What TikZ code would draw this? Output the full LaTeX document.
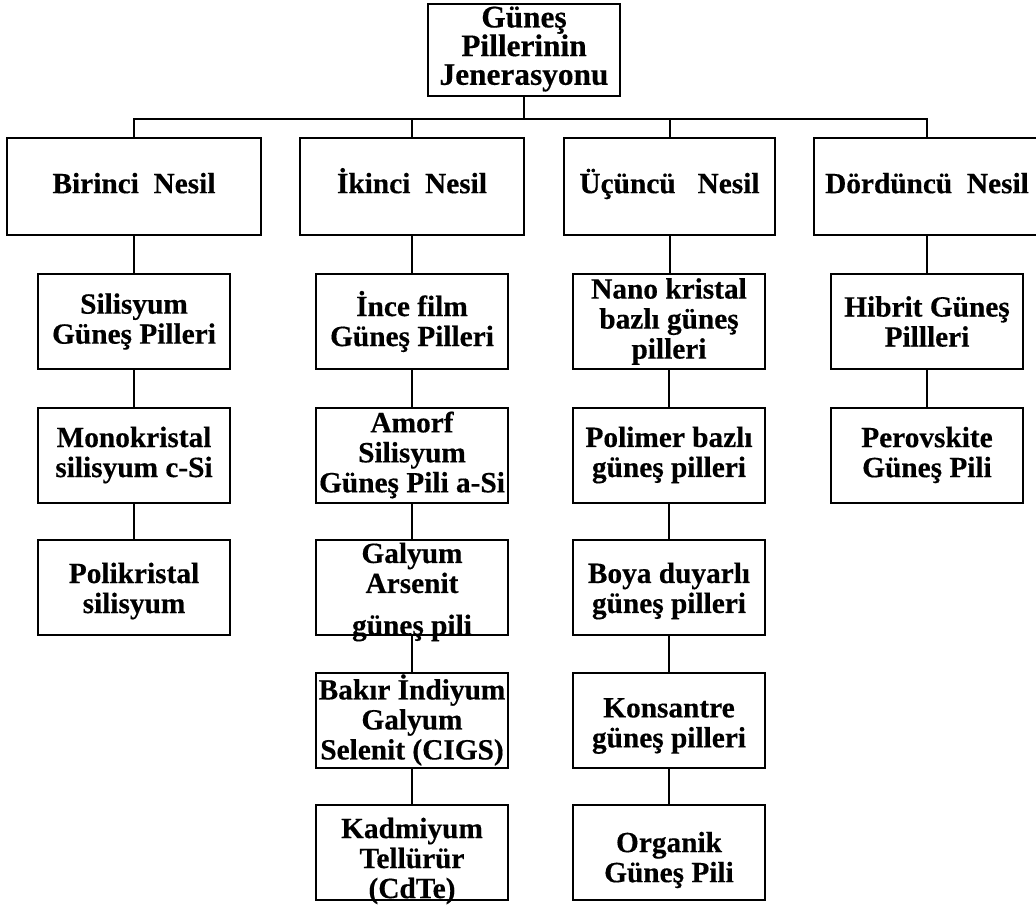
\documentclass[tikz,border=0pt]{standalone}
\usepackage{fontspec}
\setmainfont{Liberation Serif}[BoldFeatures={FakeBold=0.4}]
\begin{document}
\begin{tikzpicture}[x=0.75pt,y=-0.75pt,
  cell/.style={draw, line width=1.5pt, align=center, inner sep=0pt,
    font=\bfseries\fontsize{22}{22.5}\selectfont,
    minimum width=144pt, minimum height=71.25pt},
  gen/.style={cell, minimum height=72.75pt, text height=15pt, text depth=5pt},
  txt/.style={align=center, inner sep=0pt, font=\bfseries\fontsize{22}{22.5}\selectfont},
  link/.style={line width=1.5pt}]
\useasboundingbox (0,0) rectangle (1036,915);

% root
\node[cell, minimum height=69pt] (root) at (524,50) {};
\node[txt, font=\bfseries\fontsize{23.5}{21.5}\selectfont] (rootText) at (524,49)
  {Güneş\\Pillerinin\\Jenerasyonu};

% generations
\node[gen, minimum width=190.5pt] (g1) at (134,186.5) {Birinci\ \ Nesil};
\node[gen, minimum width=168pt]   (g2) at (412,186.5) {İkinci\ \ Nesil};
\node[gen, minimum width=158.25pt](g3) at (669.5,186.5) {Üçüncü\ \ \ Nesil};
\node[gen, minimum width=169.5pt] (g4) at (927,186.5) {Dördüncü\ \ Nesil};

% first generation
\node[cell] (a1) at (134,321.5) {Silisyum\\Güneş Pilleri};
\node[cell] (a2) at (134,455)   {Monokristal\\silisyum c-Si};
\node[cell] (a3) at (134,587.5) {};
\node[txt]  (a3t) at (134,591) {Polikristal\\silisyum};

% second generation
\node[cell] (b1) at (412,321.5) {İnce film\\Güneş Pilleri};
\node[cell] (b2) at (412,455)   {Amorf\\Silisyum\\Güneş Pili a-Si};
\node[cell] (b3) at (412,587.5) {};
\node[txt]  (b3t) at (412,592)  {Galyum\\Arsenit\\[9pt]güneş pili};
\node[cell] (b4) at (412,720)   {Bakır İndiyum\\Galyum\\Selenit (CIGS)};
\node[cell] (b5) at (412,852)   {};
\node[txt]  (b5t) at (412,861)  {Kadmiyum\\Tellürür\\(CdTe)};

% third generation
\node[cell] (c1) at (669,321.5) {Nano kristal\\bazlı güneş\\pilleri};
\node[cell] (c2) at (669,455)   {Polimer bazlı\\güneş pilleri};
\node[cell] (c3) at (669,587.5) {};
\node[txt]  (c3t) at (669,591) {Boya duyarlı\\güneş pilleri};
\node[cell] (c4) at (669,720)   {};
\node[txt]  (c4t) at (669,726) {Konsantre\\güneş pilleri};
\node[cell] (c5) at (669,852)   {};
\node[txt]  (c5t) at (669,860) {Organik\\Güneş Pili};

% fourth generation
\node[cell] (d1) at (927,321.5) {Hibrit Güneş\\Pillleri};
\node[cell] (d2) at (927,455)   {Perovskite\\Güneş Pili};

% tree connectors
\coordinate (hub) at (524,119);
\draw[link] (root.south) -- (hub);
\draw[link] (g1.north) -- (g1.north |- hub) -- (g4.north |- hub) -- (g4.north);
\draw[link] (g2.north) -- (g2.north |- hub);
\draw[link] (g3.north) -- (g3.north |- hub);

\draw[link] (g1) -- (a1) (a1) -- (a2) (a2) -- (a3);
\draw[link] (g2) -- (b1) (b1) -- (b2) (b2) -- (b3) (b3) -- (b4) (b4) -- (b5);
\draw[link] (g3.south) -- (g3.south |- c1.north) (c1) -- (c2) (c2) -- (c3) (c3) -- (c4) (c4) -- (c5);
\draw[link] (g4) -- (d1) (d1) -- (d2);
\end{tikzpicture}
\end{document}
